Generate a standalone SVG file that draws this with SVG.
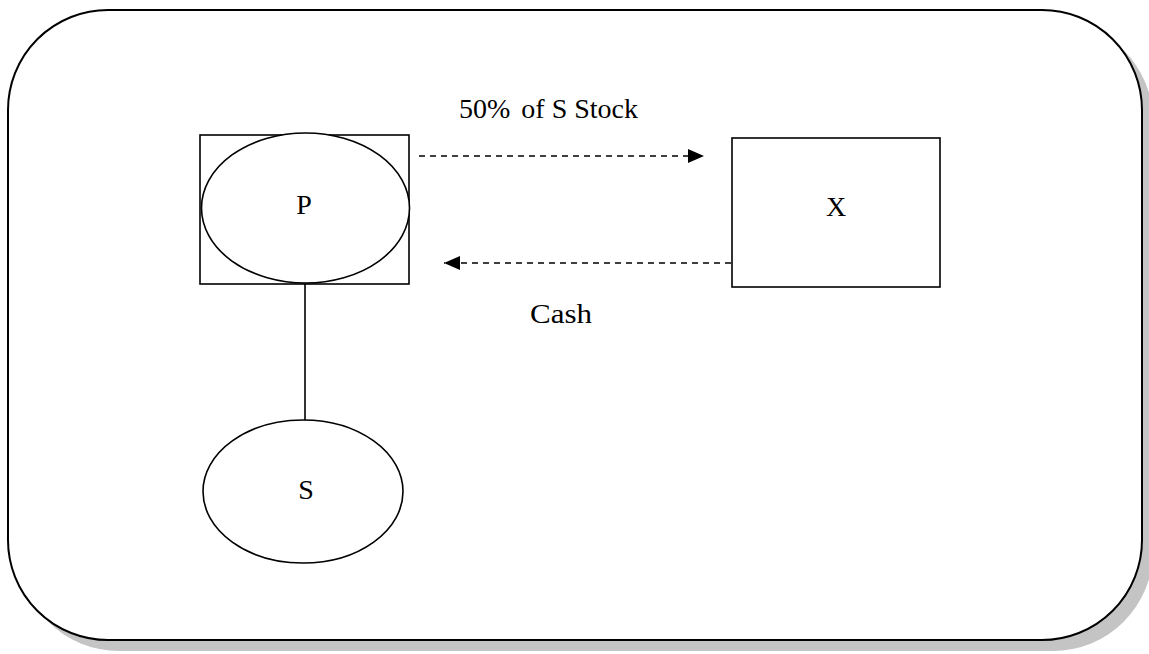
<svg xmlns="http://www.w3.org/2000/svg" width="1149" height="654" viewBox="0 0 1149 654">
<defs>
<style>
.ln{fill:none;stroke:#000;stroke-width:1.6}
.nd{fill:#fff;stroke:#000;stroke-width:1.6}
.dash{fill:none;stroke:#000;stroke-width:1.6;stroke-dasharray:6 5}
.t{font-family:"Liberation Serif","Times New Roman",serif;font-size:28px;fill:#000}
</style>
<marker id="ah2" viewBox="0 0 16 14" refX="16" refY="7" markerWidth="16" markerHeight="14" markerUnits="userSpaceOnUse" orient="auto">
<path d="M0,0 L16,7 L0,14 Z" fill="#000"/>
</marker>
</defs>
<rect width="1149" height="654" fill="#fff"/>
<g id="frame">
<rect x="19" y="21" width="1134" height="630" rx="100" ry="100" fill="#c4c4c4"/>
<rect x="8" y="10" width="1134" height="630" rx="100" ry="100" fill="#fff" stroke="#000" stroke-width="2"/>
</g>
<g id="connectors">
<line class="ln" x1="305" y1="284" x2="305" y2="420"/>
<line class="dash" x1="419" y1="156" x2="704" y2="156" marker-end="url(#ah2)"/>
<line class="dash" x1="731" y1="263" x2="444" y2="263" marker-end="url(#ah2)"/>
<text class="t" x="459" y="118">50% <tspan dx="4">of S Stock</tspan></text>
<text class="t" x="530" y="323" textLength="62" lengthAdjust="spacingAndGlyphs">Cash</text>
</g>
<g id="node-P">
<rect class="nd" x="200" y="135" width="209" height="149"/>
<ellipse class="nd" cx="305.5" cy="208" rx="104" ry="75"/>
<text class="t" x="304" y="214" text-anchor="middle">P</text>
</g>
<g id="node-X">
<rect class="nd" x="732" y="138" width="208" height="149"/>
<text class="t" x="836" y="216" text-anchor="middle">X</text>
</g>
<g id="node-S">
<ellipse class="nd" cx="303" cy="491.5" rx="100" ry="71.5"/>
<text class="t" x="306" y="499" text-anchor="middle">S</text>
</g>
</svg>
